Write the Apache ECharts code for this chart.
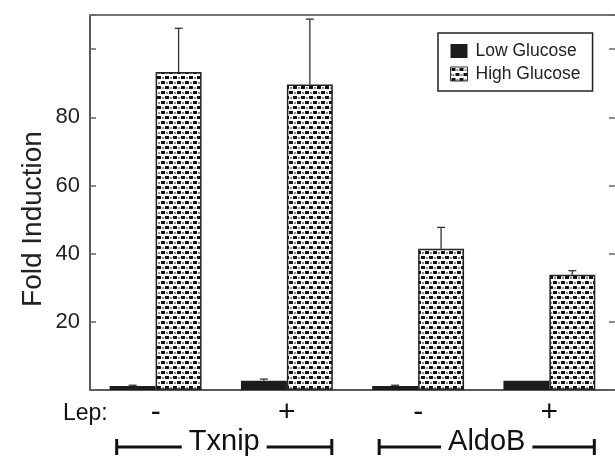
<!DOCTYPE html>
<html>
<head>
<meta charset="utf-8">
<script src="https://cdn.jsdelivr.net/npm/echarts@6/dist/echarts.min.js"></script>
<style>
  html, body { margin: 0; padding: 0; background: #fff; }
  #chart { width: 615px; height: 460px; }
</style>
</head>
<body>
<div id="chart"></div>
<script>
// data
var categories = ['-', '+', '-', '+']
var genes = ['Txnip', 'AldoB']
var lowGlucose = [1.2, 2.7, 1.2, 2.7]
var lowGlucoseErr = [0.2, 0.5, 0.2, 0]
var highGlucose = [93.3, 89.6, 41.4, 33.8]
var highGlucoseErr = [12.8, 19.2, 6.3, 1.2]
var yTicks = [20, 40, 60, 80]

var FONT = 'Liberation Sans, Arial, Helvetica, sans-serif'

// dotted fill used for the high glucose bars
function makePattern() {
  var c = document.createElement('canvas')
  c.width = 8
  c.height = 10
  var ctx = c.getContext('2d')
  ctx.fillStyle = '#fff'
  ctx.fillRect(0, 0, 8, 10)
  ctx.fillStyle = '#111'
  ctx.fillRect(1, 1, 4, 3)
  ctx.fillRect(5, 6, 3, 3)
  ctx.fillRect(0, 6, 1, 3)
  ctx.fillStyle = '#8a8a8a'
  ctx.fillRect(6, 2, 2, 2)
  ctx.fillRect(2, 7, 2, 2)
  return c
}
var pattern = { image: makePattern(), repeat: 'repeat' }

var barFrac = 0.35

function errorSeries(values, errs, side) {
  var data = values.map(function (v, i) { return [i, v, v + errs[i]] })
  return {
    type: 'custom',
    silent: true,
    z: 1,
    renderItem: function (params, api) {
      if (api.value(2) <= api.value(1)) return
      var band = api.size([1, 0])[0]
      var off = side * band * barFrac / 2
      var p0 = api.coord([api.value(0), api.value(1)])
      var p1 = api.coord([api.value(0), api.value(2)])
      var x = p0[0] + off
      var style = { stroke: '#333', lineWidth: 1.3 }
      return {
        type: 'group',
        children: [
          { type: 'line', shape: { x1: x, y1: p0[1], x2: x, y2: p1[1] }, style: style },
          { type: 'line', shape: { x1: x - 4, y1: p1[1], x2: x + 4, y2: p1[1] }, style: style }
        ]
      }
    },
    data: data
  }
}

var chart = echarts.init(document.getElementById('chart'))
chart.setOption({
  animation: false,
  textStyle: { fontFamily: FONT },
  grid: { left: 90, right: 0, top: 15, bottom: 70 },
  legend: {
    orient: 'vertical',
    left: 438,
    top: 33,
    padding: [9, 12, 8, 12],
    itemGap: 5,
    itemWidth: 17,
    itemHeight: 14,
    borderColor: '#222',
    borderWidth: 1.5,
    textStyle: { fontSize: 17.5, color: '#222', fontFamily: FONT, padding: [0, 0, 0, 3] },
    data: [
      { name: 'Low Glucose', icon: 'rect' },
      { name: 'High Glucose', icon: 'rect', itemStyle: { borderColor: '#333', borderWidth: 1 } }
    ]
  },
  xAxis: [
    {
      type: 'category',
      data: categories,
      axisLine: { onZero: false, lineStyle: { color: '#222', width: 1.5 } },
      axisTick: { show: false },
      axisLabel: { fontSize: 30, color: '#111', margin: 8, fontFamily: FONT }
    },
    {
      type: 'category',
      position: 'top',
      data: categories,
      axisLine: { show: true, onZero: false, lineStyle: { color: '#777', width: 2 } },
      axisTick: { show: false },
      axisLabel: { show: false }
    }
  ],
  yAxis: [
    {
      type: 'value',
      min: 0,
      max: 110,
      interval: 20,
      axisLine: { show: true, lineStyle: { color: '#222', width: 1.5 } },
      axisTick: { show: true, inside: true, length: 6, lineStyle: { color: '#666', width: 1.5 } },
      axisLabel: {
        fontSize: 22,
        color: '#222',
        margin: 10,
        fontFamily: FONT,
        formatter: function (v) { return yTicks.indexOf(v) >= 0 ? String(v) : '' }
      },
      splitLine: { show: false }
    },
    {
      type: 'value',
      position: 'right',
      min: 0,
      max: 110,
      interval: 20,
      axisLine: { show: false },
      axisTick: { show: true, inside: true, length: 6, lineStyle: { color: '#666', width: 1.5 } },
      axisLabel: { show: false },
      splitLine: { show: false }
    }
  ],
  series: [
    {
      name: 'Low Glucose',
      type: 'bar',
      barWidth: barFrac * 100 + '%',
      barGap: '0%',
      z: 2,
      itemStyle: { color: '#1c1c1c' },
      data: lowGlucose
    },
    {
      name: 'High Glucose',
      type: 'bar',
      barWidth: barFrac * 100 + '%',
      z: 2,
      itemStyle: { color: pattern, borderColor: '#222', borderWidth: 1.5 },
      data: highGlucose
    },
    errorSeries(lowGlucose, lowGlucoseErr, -1),
    errorSeries(highGlucose, highGlucoseErr, 1)
  ]
})

// axis title, Lep: label and gene brackets under the axis
function drawExtras() {
  var band = chart.convertToPixel({ xAxisIndex: 0 }, 1) - chart.convertToPixel({ xAxisIndex: 0 }, 0)
  var half = band * barFrac
  var yAxisBottom = chart.convertToPixel({ yAxisIndex: 0 }, 0)
  var measure = document.createElement('canvas').getContext('2d')
  measure.font = '29px ' + FONT
  var els = [
    {
      type: 'text',
      x: 33, y: 219, rotation: Math.PI / 2,
      style: {
        text: 'Fold Induction', fill: '#222', font: '28px ' + FONT,
        textAlign: 'center', textVerticalAlign: 'middle'
      }
    },
    {
      type: 'text',
      style: {
        text: 'Lep:', x: chart.convertToPixel({ xAxisIndex: 0 }, 0) - half - 2, y: yAxisBottom + 24,
        fill: '#111', font: '23px ' + FONT, textAlign: 'right', textVerticalAlign: 'middle'
      }
    }
  ]
  var by = yAxisBottom + 57
  genes.forEach(function (g, gi) {
    var x0 = chart.convertToPixel({ xAxisIndex: 0 }, gi * 2) - half + 7
    var x1 = chart.convertToPixel({ xAxisIndex: 0 }, gi * 2 + 1) + half - 1
    var mid = (x0 + x1) / 2
    var gap = measure.measureText(g).width / 2 + 7
    var lw = { stroke: '#111', lineWidth: 3 }
    els.push(
      { type: 'line', shape: { x1: x0, y1: by, x2: mid - gap, y2: by }, style: lw },
      { type: 'line', shape: { x1: mid + gap, y1: by, x2: x1, y2: by }, style: lw },
      { type: 'line', shape: { x1: x0, y1: by - 8, x2: x0, y2: by + 8 }, style: lw },
      { type: 'line', shape: { x1: x1, y1: by - 8, x2: x1, y2: by + 8 }, style: lw },
      {
        type: 'text',
        style: {
          text: g, x: mid, y: by - 5, fill: '#111', font: '29px ' + FONT,
          textAlign: 'center', textVerticalAlign: 'middle'
        }
      }
    )
  })
  chart.setOption({ graphic: els })
}
drawExtras()
</script>
</body>
</html>
